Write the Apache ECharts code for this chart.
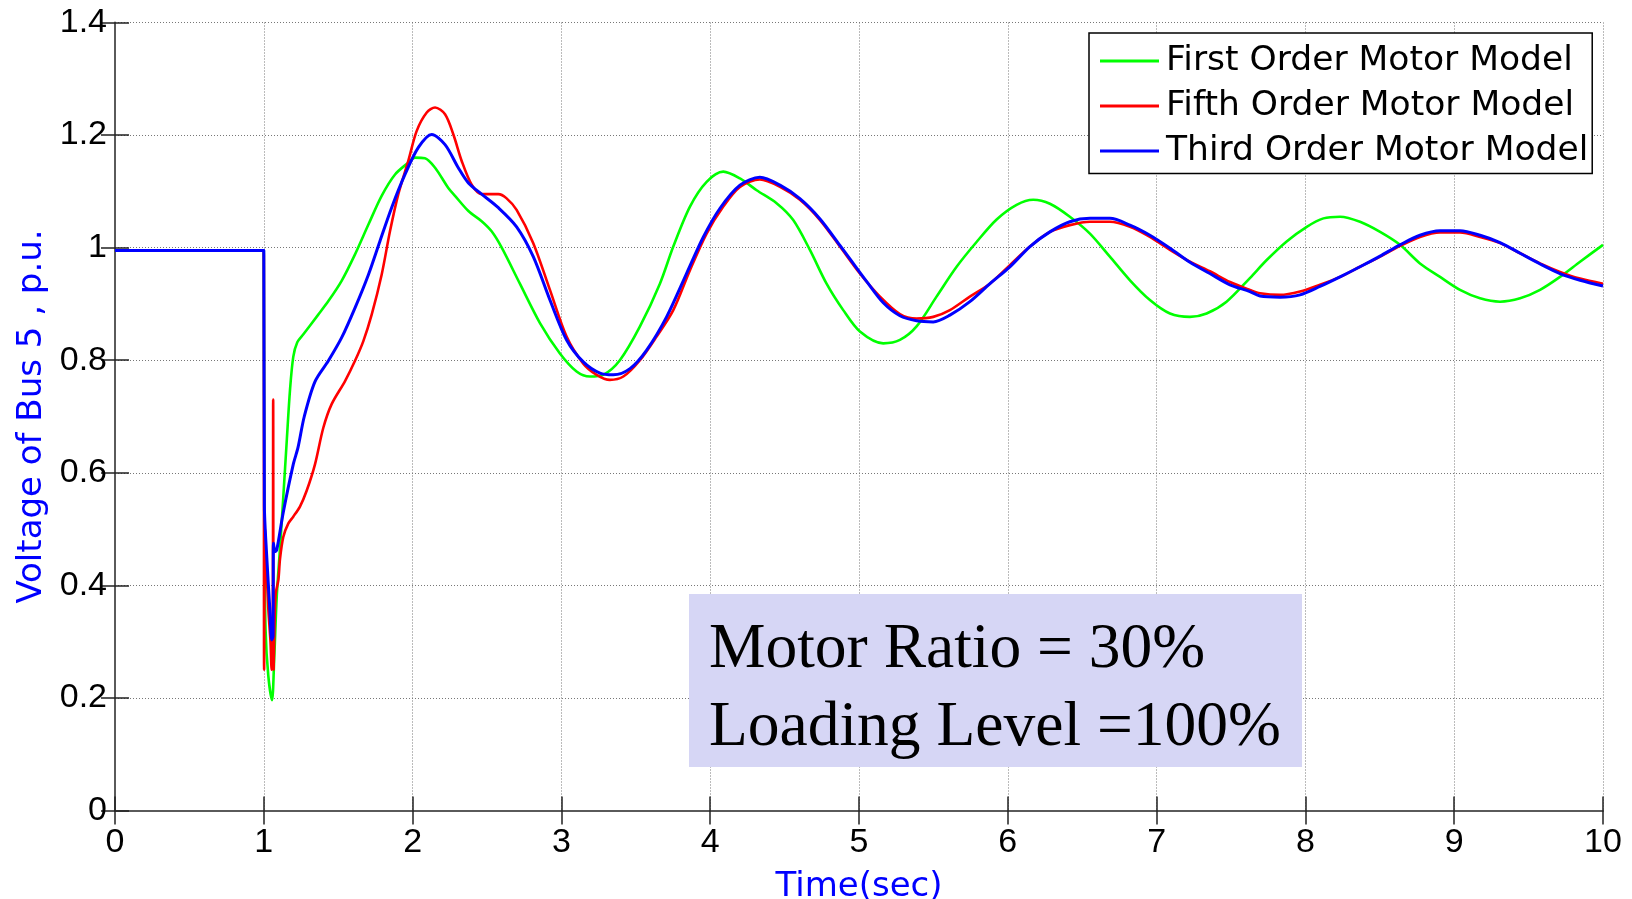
<!DOCTYPE html>
<html>
<head>
<meta charset="utf-8">
<script src="https://cdn.jsdelivr.net/npm/echarts@6/dist/echarts.min.js"></script>
<style>
html,body{margin:0;padding:0;background:#fff;}
#chart{width:1632px;height:899px;}
</style>
</head>
<body>
<div id="chart"></div>
<script>
// ---- Data (time in s, voltage in p.u.) ----
var seriesNames = ['First Order Motor Model', 'Fifth Order Motor Model', 'Third Order Motor Model'];
var seriesColors = ['#00ff00', '#ff0000', '#0000ff'];

var firstOrder = [
[0,0.995],[1.0,0.995],[1.004,0.50],[1.012,0.32],[1.03,0.24],[1.055,0.196],[1.07,0.27],[1.087,0.38],
[1.11,0.47],[1.131,0.557],[1.155,0.66],[1.176,0.747],[1.198,0.806],[1.225,0.832],[1.266,0.846],
[1.366,0.881],[1.434,0.905],[1.523,0.941],[1.613,0.988],[1.703,1.041],[1.792,1.092],[1.882,1.130],
[1.971,1.151],[2.016,1.160],[2.083,1.159],[2.151,1.142],[2.240,1.106],[2.285,1.092],[2.375,1.065],
[2.464,1.047],[2.531,1.029],[2.599,1.0],[2.721,0.936],[2.856,0.866],[2.99,0.812],
[3.102,0.780],[3.192,0.771],[3.281,0.774],[3.393,0.800],[3.528,0.860],[3.662,0.936],[3.752,1.002],
[3.864,1.073],[3.976,1.117],[4.088,1.135],[4.2,1.123],[4.312,1.102],[4.446,1.079],[4.558,1.049],
[4.67,0.996],[4.782,0.936],[4.894,0.889],[5.006,0.851],[5.163,0.830],[5.275,0.836],[5.387,0.860],
[5.521,0.913],[5.656,0.966],[5.79,1.010],[5.925,1.050],[6.059,1.076],[6.171,1.085],[6.283,1.078],
[6.417,1.055],[6.552,1.025],[6.686,0.984],[6.821,0.942],[6.955,0.907],[7.09,0.883],[7.224,0.877],
[7.336,0.883],[7.47,0.904],[7.627,0.946],[7.74,0.978],[7.874,1.011],[8.009,1.037],[8.121,1.052],
[8.233,1.055],[8.367,1.046],[8.502,1.028],[8.636,1.005],[8.77,0.972],[8.905,0.948],[9.039,0.925],
[9.174,0.910],[9.308,0.904],[9.443,0.910],[9.577,0.925],[9.711,0.948],[9.846,0.975],[10,1.005]
];

var fifthOrder = [
[0,0.995],[1.0,0.995],[1.002,0.25],[1.008,0.50],[1.015,0.45],[1.03,0.36],[1.045,0.30],[1.053,0.25],
[1.06,0.28],[1.063,0.73],[1.066,0.25],[1.072,0.33],[1.08,0.385],[1.098,0.41],[1.109,0.447],
[1.131,0.486],[1.165,0.51],[1.198,0.522],[1.243,0.54],[1.288,0.568],[1.344,0.615],[1.400,0.680],
[1.456,0.722],[1.546,0.763],[1.613,0.799],[1.669,0.834],[1.725,0.881],[1.792,0.952],[1.848,1.029],
[1.904,1.095],[1.971,1.154],[2.027,1.207],[2.095,1.240],[2.151,1.249],[2.218,1.237],[2.274,1.201],
[2.330,1.154],[2.397,1.112],[2.464,1.095],[2.576,1.095],[2.63,1.088],[2.699,1.067],[2.811,1.008],
[2.923,0.925],[3.035,0.842],[3.147,0.794],[3.237,0.774],[3.326,0.765],[3.416,0.771],[3.528,0.800],
[3.64,0.842],[3.752,0.889],[3.864,0.960],[3.976,1.025],[4.088,1.073],[4.2,1.108],[4.334,1.121],
[4.469,1.108],[4.603,1.085],[4.738,1.049],[4.872,1.002],[5.006,0.954],[5.141,0.913],[5.275,0.882],
[5.387,0.874],[5.499,0.877],[5.611,0.889],[5.745,0.913],[5.88,0.936],[6.014,0.969],[6.149,1.002],
[6.283,1.028],[6.417,1.040],[6.552,1.046],[6.686,1.046],[6.821,1.037],[6.955,1.019],[7.09,0.996],
[7.224,0.975],[7.358,0.958],[7.493,0.939],[7.627,0.925],[7.695,0.919],[7.83,0.916],[7.964,0.922],
[8.098,0.934],[8.233,0.948],[8.367,0.966],[8.502,0.984],[8.636,1.003],[8.77,1.019],[8.905,1.027],
[9.039,1.027],[9.174,1.019],[9.308,1.008],[9.443,0.990],[9.577,0.972],[9.711,0.957],[9.846,0.945],
[10,0.936]
];

var thirdOrder = [
[0,0.995],[1.0,0.995],[1.004,0.54],[1.02,0.45],[1.04,0.36],[1.053,0.303],[1.062,0.31],[1.065,0.475],
[1.075,0.46],[1.087,0.463],[1.131,0.53],[1.198,0.615],[1.23,0.645],[1.272,0.70],[1.344,0.762],
[1.434,0.799],[1.523,0.840],[1.613,0.893],[1.703,0.952],[1.781,1.012],[1.859,1.071],[1.949,1.130],
[2.039,1.178],[2.128,1.201],[2.218,1.183],[2.307,1.142],[2.375,1.115],[2.464,1.095],[2.576,1.071],
[2.699,1.037],[2.811,0.984],[2.923,0.907],[3.035,0.836],[3.147,0.797],[3.259,0.777],[3.349,0.774],
[3.461,0.785],[3.573,0.818],[3.707,0.877],[3.841,0.954],[3.954,1.019],[4.066,1.070],[4.2,1.111],
[4.334,1.125],[4.469,1.111],[4.603,1.087],[4.738,1.051],[4.872,1.004],[4.939,0.980],[5.051,0.940],
[5.163,0.902],[5.275,0.879],[5.387,0.870],[5.499,0.868],[5.611,0.880],[5.745,0.904],[5.88,0.936],
[6.014,0.966],[6.149,1.002],[6.283,1.028],[6.417,1.046],[6.552,1.052],[6.686,1.052],[6.821,1.040],
[6.955,1.022],[7.09,0.999],[7.224,0.974],[7.358,0.954],[7.493,0.934],[7.627,0.922],[7.695,0.914],
[7.83,0.912],[7.964,0.916],[8.098,0.931],[8.233,0.948],[8.367,0.966],[8.502,0.985],[8.636,1.005],
[8.77,1.022],[8.905,1.030],[9.039,1.030],[9.174,1.022],[9.308,1.009],[9.443,0.990],[9.577,0.971],
[9.711,0.954],[9.846,0.942],[10,0.932]
];

var xTicks = {min: 0, max: 10, interval: 1};
var yTicks = {min: 0, max: 1.4, interval: 0.2};
var xAxisTitle = 'Time(sec)';
var yAxisTitle = 'Voltage of Bus 5 , p.u.';
var noteLines = ['Motor Ratio = 30%', 'Loading Level =100%'];

// ---- Chart ----
var chart = echarts.init(document.getElementById('chart'), null, {renderer: 'canvas'});
var tickFont = {fontFamily: 'Liberation Sans', fontSize: 34, color: '#000'};
var gridLine = {show: true, lineStyle: {type: [1, 2], color: '#777', width: 1}};
var innerTick = {show: true, inside: true, length: 14, lineStyle: {color: '#222', width: 1.5}};

var allData = [firstOrder, fifthOrder, thirdOrder];
var series = allData.map(function (d, i) {
  return {
    name: seriesNames[i],
    type: 'line',
    data: d,
    symbol: 'none',
    showSymbol: false,
    smooth: 0.3,
    lineStyle: {color: seriesColors[i], width: i === 2 ? 3 : 2.6},
    itemStyle: {color: seriesColors[i]},
    z: 2 + i
  };
});

chart.setOption({
  animation: false,
  backgroundColor: '#fff',
  grid: {left: 115, right: 29, top: 22.5, bottom: 88.5, containLabel: false, outerBoundsMode: 'none'},
  xAxis: [{
    type: 'value', min: xTicks.min, max: xTicks.max, interval: xTicks.interval,
    name: xAxisTitle, nameLocation: 'middle', nameGap: 60,
    nameTextStyle: {fontFamily: 'DejaVu Sans', fontSize: 34, color: '#0000ff'},
    axisLine: {show: true, onZero: false, lineStyle: {color: '#5a5a5a', width: 2}},
    axisTick: innerTick,
    axisLabel: Object.assign({margin: 15}, tickFont),
    splitLine: gridLine
  }, {
    type: 'value', position: 'top', min: xTicks.min, max: xTicks.max, interval: xTicks.interval,
    axisLine: {show: false}, axisTick: innerTick, axisLabel: {show: false}, splitLine: {show: false}
  }],
  yAxis: [{
    type: 'value', min: yTicks.min, max: yTicks.max, interval: yTicks.interval,
    name: yAxisTitle, nameLocation: 'middle', nameGap: 62, nameRotate: 90,
    nameTextStyle: {fontFamily: 'DejaVu Sans', fontSize: 34, color: '#0000ff'},
    axisLine: {show: true, onZero: false, lineStyle: {color: '#5a5a5a', width: 2}},
    axisTick: innerTick,
    axisLabel: Object.assign({margin: 8, formatter: function (v) { return String(+v.toFixed(1)); }}, tickFont),
    splitLine: gridLine
  }, {
    type: 'value', position: 'right', min: yTicks.min, max: yTicks.max, interval: yTicks.interval,
    axisLine: {show: false}, axisTick: innerTick, axisLabel: {show: false}, splitLine: {show: false}
  }],
  legend: {
    data: seriesNames,
    orient: 'vertical', left: 1089, top: 33,
    padding: [5.5, 4, 0, 11], itemGap: 0, itemWidth: 59, itemHeight: 3, icon: 'rect',
    backgroundColor: '#fff', borderColor: '#000', borderWidth: 1.5, borderRadius: 0,
    textStyle: {fontFamily: 'DejaVu Sans', fontSize: 34.5, color: '#000', lineHeight: 45, padding: [0, 0, 0, 2]},
    selectedMode: false
  },
  graphic: [
    {type: 'rect', shape: {x: 689, y: 594, width: 613, height: 173}, style: {fill: '#d6d6f5'}, z: 100},
    {type: 'text', x: 709, y: 650, z: 101,
      style: {text: noteLines[0], font: '63.5px "Liberation Serif"', fill: '#000', verticalAlign: 'middle', align: 'left'}},
    {type: 'text', x: 709, y: 728, z: 101,
      style: {text: noteLines[1], font: '63.5px "Liberation Serif"', fill: '#000', verticalAlign: 'middle', align: 'left'}}
  ],
  series: series
});
</script>
</body>
</html>
